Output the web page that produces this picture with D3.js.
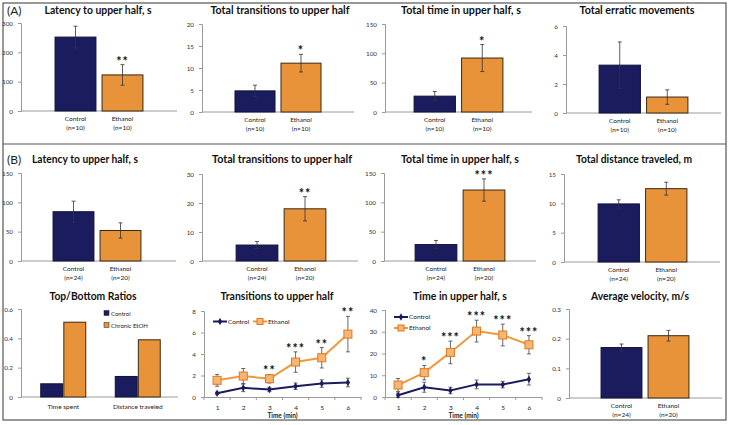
<!DOCTYPE html>
<html>
<head>
<meta charset="utf-8">
<script src="https://cdn.jsdelivr.net/npm/d3@7"></script>
<style>
body { margin: 0; background: #fff; }
text { font-family: Lato, "Open Sans", sans-serif; }
</style>
</head>
<body>
<div id="chart"></div>
<script>
// groups and data
const groups = ["Control", "Ethanol"]
const nA = ["(n=10)", "(n=10)"]
const nB = ["(n=24)", "(n=20)"]

const latencyA = [252, 123], latencyAErr = [37, 35], latencyAStars = ["", "**"]
const transA = [4.8, 11.1], transAErr = [1.3, 2.0], transAStars = ["", "*"]
const timeA = [27, 92], timeAErr = [8, 23], timeAStars = ["", "*"]
const erraticA = [3.3, 1.1], erraticAErr = [1.6, 0.5], erraticAStars = ["", ""]

const latencyB = [84, 52], latencyBErr = [18, 13], latencyBStars = ["", ""]
const transB = [5.5, 18], transBErr = [1.2, 4.2], transBStars = ["", "**"]
const timeB = [28, 121], timeBErr = [7, 19], timeBStars = ["", "***"]
const distB = [9.9, 12.5], distBErr = [0.7, 1.1], distBStars = ["", ""]
const velB = [0.17, 0.21], velBErr = [0.012, 0.018], velBStars = ["", ""]

const ratioCats = ["Time spent", "Distance traveled"]
const ratioGroups = ["Control", "Chronic EtOH"]
const ratioControl = [0.09, 0.14]
const ratioEtOH = [0.51, 0.39]

const minutes = [1, 2, 3, 4, 5, 6]
const transCtrl = [0.35, 0.85, 0.7, 1.0, 1.25, 1.35]
const transCtrlErr = [0.1, 0.35, 0.2, 0.3, 0.35, 0.4]
const transEth = [1.55, 1.95, 1.7, 3.25, 3.65, 5.85]
const transEthErr = [0.55, 0.7, 0.4, 0.95, 0.95, 1.65]
const transStars = ["", "", "**", "***", "**", "**"]

const timeCtrl = [0.8, 4.5, 3, 5.8, 5.7, 8.2]
const timeCtrlErr = [1, 2.3, 1.5, 2, 1.5, 2.7]
const timeEth = [5.5, 11.2, 20.5, 30.3, 28.5, 24]
const timeEthErr = [3, 3.3, 5.2, 5, 5, 4.2]
const timeStars = ["", "*", "***", "***", "***", "***"]

const navy = "#1b1c5e"
const orange = "#e8923a"
const axisGrey = "#9a9a9a"

const svg = d3.select("#chart").append("svg")
    .attr("width", 729)
    .attr("height", 425)
    .style("background", "#fff")

// outer frame with divider between (A) and (B)
svg.append("rect")
    .attr("x", 3).attr("y", 3).attr("width", 723).attr("height", 417)
    .attr("fill", "none").attr("stroke", "#555").attr("stroke-width", 1.2)
svg.append("line")
    .attr("x1", 3).attr("x2", 726).attr("y1", 144).attr("y2", 144)
    .attr("stroke", "#555").attr("stroke-width", 1.2)
svg.append("text").attr("x", 7).attr("y", 15).text("(A)")
    .attr("font-size", 12).attr("fill", "#222")
svg.append("text").attr("x", 7).attr("y", 164).text("(B)")
    .attr("font-size", 12).attr("fill", "#222")

function title(text, cx, y, w) {
    svg.append("text")
        .attr("x", cx).attr("y", y)
        .attr("text-anchor", "middle")
        .attr("font-size", 11.5)
        .attr("font-weight", "bold")
        .attr("fill", "#111")
        .attr("textLength", w)
        .attr("lengthAdjust", "spacingAndGlyphs")
        .text(text)
}

function yAxis(g, y, x0, ticks) {
    g.append("g")
        .attr("transform", `translate(${x0},0)`)
        .call(d3.axisLeft(y).tickValues(ticks).tickSize(3).tickPadding(5).tickFormat(d => String(d)))
        .call(a => a.select(".domain").attr("stroke", axisGrey))
        .call(a => a.selectAll(".tick line").attr("stroke", axisGrey))
        .call(a => a.selectAll(".tick text")
            .attr("font-size", 6.3)
            .attr("fill", "#333")
            .style("font-family", "Lato, sans-serif"))
}

function errBars(g, xs, ys, errs, y, color) {
    xs.forEach((cx, i) => {
        const top = y(ys[i] + errs[i]), bot = y(ys[i] - errs[i])
        g.append("line").attr("x1", cx).attr("x2", cx).attr("y1", top).attr("y2", bot)
            .attr("stroke", color).attr("stroke-width", 0.8)
        g.append("line").attr("x1", cx - 2).attr("x2", cx + 2).attr("y1", top).attr("y2", top)
            .attr("stroke", color).attr("stroke-width", 0.8)
        g.append("line").attr("x1", cx - 2).attr("x2", cx + 2).attr("y1", bot).attr("y2", bot)
            .attr("stroke", color).attr("stroke-width", 0.8)
    })
}

function stars(g, xs, tops, labels) {
    xs.forEach((cx, i) => {
        if (!labels[i]) return
        g.append("text")
            .attr("x", cx).attr("y", tops[i])
            .attr("text-anchor", "middle")
            .attr("font-size", 12.5)
            .attr("font-weight", "bold")
            .attr("letter-spacing", 1)
            .attr("fill", "#111")
            .text(labels[i])
    })
}

function barPanel(p) {
    const g = svg.append("g")
    const x = d3.scaleBand().domain(groups).range(p.band).paddingInner(0.13).paddingOuter(0.065)
    const y = d3.scaleLinear().domain([0, p.max]).range([p.bottom, p.top])

    yAxis(g, y, p.ax, p.ticks)
    g.append("line")
        .attr("x1", p.ax).attr("x2", p.end).attr("y1", p.bottom).attr("y2", p.bottom)
        .attr("stroke", axisGrey)

    g.selectAll(".bar")
        .data(p.values)
        .join("rect")
        .attr("class", "bar")
        .attr("x", (d, i) => x(groups[i]))
        .attr("y", d => y(d))
        .attr("width", x.bandwidth())
        .attr("height", d => y(0) - y(d))
        .attr("fill", (d, i) => i === 0 ? navy : orange)
        .attr("stroke", (d, i) => i === 0 ? "#10113a" : "#3b2a12")
        .attr("stroke-width", 1)

    const cx = groups.map(k => x(k) + x.bandwidth() / 2)
    errBars(g, cx, p.values, p.errs, y, "#333")
    stars(g, cx, p.values.map((v, i) => y(v + p.errs[i]) + 1), p.stars)

    groups.forEach((k, i) => {
        const t = g.append("text")
            .attr("x", cx[i]).attr("y", p.bottom + 10)
            .attr("text-anchor", "middle")
            .attr("font-size", 6.5)
            .attr("fill", "#222")
        t.append("tspan").attr("x", cx[i]).text(k)
        t.append("tspan").attr("x", cx[i]).attr("dy", 8.5).text(p.n[i])
    })
    title(p.title, p.tx, p.ty, p.tw)
}

function linePanel(p) {
    const g = svg.append("g")
    const x = d3.scaleLinear().domain([0.5, 6.5]).range([p.ax, p.end])
    const y = d3.scaleLinear().domain([0, p.max]).range([p.bottom, p.top])

    yAxis(g, y, p.ax, p.ticks)
    g.append("g")
        .attr("transform", `translate(0,${p.bottom})`)
        .call(d3.axisBottom(x).tickValues(minutes).tickSize(0).tickPadding(8).tickFormat(d => String(d)))
        .call(a => a.select(".domain").attr("stroke", axisGrey))
        .call(a => a.selectAll(".tick text").attr("font-size", 6.5).attr("fill", "#222")
            .style("font-family", "Lato, sans-serif"))
    g.selectAll(".xt")
        .data(d3.range(0.5, 7, 1))
        .join("line")
        .attr("x1", d => x(d)).attr("x2", d => x(d))
        .attr("y1", p.bottom).attr("y2", p.bottom + 3)
        .attr("stroke", axisGrey)
    g.append("text")
        .attr("x", (x(1) + x(6)) / 2).attr("y", p.bottom + 21)
        .attr("text-anchor", "middle")
        .attr("font-size", 6.5).attr("font-weight", "bold").attr("fill", "#222")
        .text("Time (min)")

    const xs = minutes.map(m => x(m))
    errBars(g, xs, p.ctrl, p.ctrlErr, y, "#444")
    errBars(g, xs, p.eth, p.ethErr, y, "#444")

    const line = d3.line().x((d, i) => xs[i]).y(d => y(d))
    g.append("path").datum(p.ctrl).attr("d", line)
        .attr("fill", "none").attr("stroke", navy).attr("stroke-width", 2)
    g.append("path").datum(p.eth).attr("d", line)
        .attr("fill", "none").attr("stroke", "#f0993c").attr("stroke-width", 2)

    const diamond = d3.symbol().type(d3.symbolDiamond).size(16)
    g.selectAll(".cm")
        .data(p.ctrl)
        .join("path")
        .attr("transform", (d, i) => `translate(${xs[i]},${y(d)})`)
        .attr("d", diamond)
        .attr("fill", navy)
    g.selectAll(".em")
        .data(p.eth)
        .join("rect")
        .attr("x", (d, i) => xs[i] - 4).attr("y", d => y(d) - 4)
        .attr("width", 8).attr("height", 8)
        .attr("fill", "#f7b673").attr("stroke", "#e0781e").attr("stroke-width", 1)

    stars(g, xs, p.eth.map((v, i) => y(v + p.ethErr[i]) + 1), p.stars)

    // legend
    p.legend.forEach((l, i) => {
        g.append("line").attr("x1", l.x).attr("x2", l.x + 14).attr("y1", l.y).attr("y2", l.y)
            .attr("stroke", i === 0 ? navy : "#f0993c").attr("stroke-width", 2)
        if (i === 0) {
            g.append("path").attr("transform", `translate(${l.x + 7},${l.y})`).attr("d", diamond).attr("fill", navy)
        } else {
            g.append("rect").attr("x", l.x + 4).attr("y", l.y - 3).attr("width", 6).attr("height", 6)
                .attr("fill", "#f7b673").attr("stroke", "#e0781e")
        }
        g.append("text").attr("x", l.x + 15).attr("y", l.y + 2.3)
            .attr("font-size", 6.5).attr("fill", "#222")
            .text(groups[i])
    })
    title(p.title, p.tx, p.ty, p.tw)
}

// (A) row
barPanel({title: "Latency to upper half, s", tx: 98, ty: 14, tw: 107,
    values: latencyA, errs: latencyAErr, stars: latencyAStars, n: nA,
    max: 300, ticks: [0, 100, 200, 300], ax: 21, band: [52, 146], end: 177, top: 23, bottom: 111})
barPanel({title: "Total transitions to upper half", tx: 280, ty: 14, tw: 139,
    values: transA, errs: transAErr, stars: transAStars, n: nA,
    max: 20, ticks: [0, 5, 10, 15, 20], ax: 202, band: [232, 324], end: 354, top: 24, bottom: 112})
barPanel({title: "Total time in upper half, s", tx: 461, ty: 14, tw: 120,
    values: timeA, errs: timeAErr, stars: timeAStars, n: nA,
    max: 150, ticks: [0, 50, 100, 150], ax: 385, band: [411, 506], end: 532, top: 24, bottom: 112})
barPanel({title: "Total erratic movements", tx: 637, ty: 14, tw: 115,
    values: erraticA, errs: erraticAErr, stars: erraticAStars, n: nA,
    max: 6, ticks: [0, 2, 4, 6], ax: 566, band: [596, 691], end: 721, top: 26, bottom: 113})

// (B) upper row
barPanel({title: "Latency to upper half, s", tx: 85, ty: 163, tw: 106,
    values: latencyB, errs: latencyBErr, stars: latencyBStars, n: nB,
    max: 150, ticks: [0, 50, 100, 150], ax: 21, band: [50, 144], end: 176, top: 173, bottom: 261})
barPanel({title: "Total transitions to upper half", tx: 282, ty: 163, tw: 140,
    values: transB, errs: transBErr, stars: transBStars, n: nB,
    max: 30, ticks: [0, 10, 20, 30], ax: 202, band: [233, 329], end: 358, top: 174, bottom: 261})
barPanel({title: "Total time in upper half, s", tx: 460, ty: 163, tw: 118,
    values: timeB, errs: timeBErr, stars: timeBStars, n: nB,
    max: 150, ticks: [0, 50, 100, 150], ax: 384, band: [412, 508], end: 536, top: 173, bottom: 261})
barPanel({title: "Total distance traveled, m", tx: 634, ty: 163, tw: 116,
    values: distB, errs: distBErr, stars: distBStars, n: nB,
    max: 15, ticks: [0, 5, 10, 15], ax: 564, band: [595, 690], end: 720, top: 174, bottom: 262})

// (B) lower row: ratios
{
    const g = svg.append("g")
    const x0 = d3.scaleBand().domain(ratioCats).range([26, 175])
    const x1 = d3.scaleBand().domain(ratioGroups).range([-22.5, 22.5]).paddingInner(0.05)
    const y = d3.scaleLinear().domain([0, 0.6]).range([397, 309])
    yAxis(g, y, 21, [0, 0.2, 0.4, 0.6])
    g.append("line").attr("x1", 21).attr("x2", 178).attr("y1", 397).attr("y2", 397).attr("stroke", axisGrey)
    const cols = [ratioControl, ratioEtOH]
    ratioCats.forEach((c, ci) => {
        const cx = x0(c) + x0.bandwidth() / 2
        ratioGroups.forEach((k, gi) => {
            const v = cols[gi][ci]
            g.append("rect")
                .attr("x", cx + x1(k)).attr("y", y(v))
                .attr("width", x1.bandwidth()).attr("height", y(0) - y(v))
                .attr("fill", gi === 0 ? navy : orange)
                .attr("stroke", gi === 0 ? "#10113a" : "#3b2a12")
        })
        g.append("text").attr("x", cx).attr("y", 409).attr("text-anchor", "middle")
            .attr("font-size", 6.5).attr("fill", "#222").text(c)
    })
    ratioGroups.forEach((k, gi) => {
        g.append("rect").attr("x", 104).attr("y", 310.5 + gi * 12).attr("width", 5).attr("height", 5)
            .attr("fill", gi === 0 ? navy : orange).attr("stroke", "#222").attr("stroke-width", 0.5)
        g.append("text").attr("x", 111).attr("y", 315.5 + gi * 12)
            .attr("font-size", 6).attr("fill", "#222").text(k)
    })
    title("Top/Bottom Ratios", 93, 300, 87)
}

linePanel({title: "Transitions to upper half", tx: 277, ty: 300, tw: 113,
    ctrl: transCtrl, ctrlErr: transCtrlErr, eth: transEth, ethErr: transEthErr, stars: transStars,
    max: 8, ticks: [0, 2, 4, 6, 8], ax: 204, end: 361, top: 311, bottom: 397,
    legend: [{x: 213, y: 321.5}, {x: 253, y: 321.5}]})
linePanel({title: "Time in upper half, s", tx: 460, ty: 300, tw: 94,
    ctrl: timeCtrl, ctrlErr: timeCtrlErr, eth: timeEth, ethErr: timeEthErr, stars: timeStars,
    max: 40, ticks: [0, 10, 20, 30, 40], ax: 385, end: 542, top: 310, bottom: 397,
    legend: [{x: 394, y: 317}, {x: 394, y: 328}]})

barPanel({title: "Average velocity, m/s", tx: 640, ty: 300, tw: 98,
    values: velB, errs: velBErr, stars: velBStars, n: nB,
    max: 0.3, ticks: [0, 0.1, 0.2, 0.3], ax: 569, band: [598, 692], end: 722, top: 309, bottom: 398})
</script>
</body>
</html>
